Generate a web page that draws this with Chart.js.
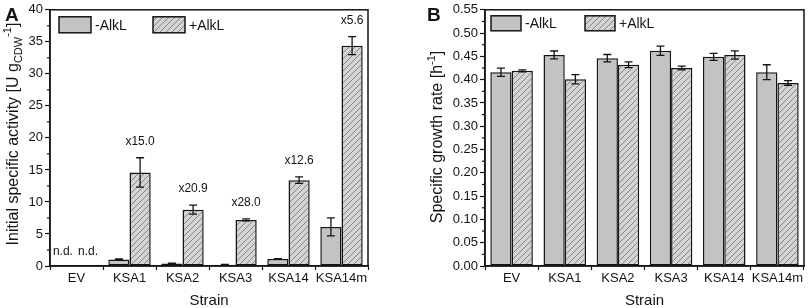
<!DOCTYPE html>
<html><head><meta charset="utf-8">
<script src="https://cdn.jsdelivr.net/npm/chart.js@4/dist/chart.umd.min.js"></script>
<style>
html,body{margin:0;padding:0;background:#fff;}
#wrap{position:relative;width:809px;height:308px;overflow:hidden;}
.pane{position:absolute;top:0;height:308px;}
</style></head><body>
<div id="wrap">
  <div class="pane" style="left:0;width:400px"><canvas id="ca" width="400" height="308"></canvas></div>
  <div class="pane" style="left:400px;width:409px"><canvas id="cb" width="409" height="308"></canvas></div>
</div>
<script>
// ---------- data ----------
const strains = ['EV', 'KSA1', 'KSA2', 'KSA3', 'KSA14', 'KSA14m'];
const seriesNames = ['-AlkL', '+AlkL'];

// Panel A: initial specific activity [U gCDW-1] (null = n.d.)
const activityMinus    = [null, 1.0, 0.4, 0.2, 1.1, 6.1];
const activityMinusErr = [0, 0.1, 0.05, 0.05, 0.05, 1.4];
const activityPlus     = [null, 14.6, 8.8, 7.2, 13.4, 34.4];
const activityPlusErr  = [0, 2.3, 0.7, 0.15, 0.5, 1.4];
const foldChange       = ['', 'x15.0', 'x20.9', 'x28.0', 'x12.6', 'x5.6'];
const ndLabel = 'n.d.';

// Panel B: specific growth rate [h-1]
const growthMinus    = [0.416, 0.453, 0.446, 0.462, 0.449, 0.416];
const growthMinusErr = [0.009, 0.0085, 0.008, 0.010, 0.0075, 0.016];
const growthPlus     = [0.419, 0.401, 0.432, 0.425, 0.453, 0.393];
const growthPlusErr  = [0.002, 0.010, 0.006, 0.004, 0.009, 0.005];

const yTicksA = {min: 0, max: 40, step: 5};
const yTicksB = {min: 0, max: 0.55, step: 0.05};

// ---------- styles ----------
const FONT = '"Liberation Sans", Arial, Helvetica, sans-serif';
const INK = '#141414';
const SOLID = '#c3c3c3';

function hatchPattern() {
  const c = document.createElement('canvas');
  c.width = 6; c.height = 6;
  const x = c.getContext('2d');
  x.fillStyle = '#d3d3d3';
  x.fillRect(0, 0, 6, 6);
  x.strokeStyle = '#868686';
  x.lineWidth = 1;
  x.beginPath();
  x.moveTo(0, 6); x.lineTo(6, 0);
  x.moveTo(-1, 1); x.lineTo(1, -1);
  x.moveTo(5, 7); x.lineTo(7, 5);
  x.stroke();
  return x.createPattern(c, 'repeat');
}
const HATCH = hatchPattern();

function drawRich(ctx, parts, cx, cy, rotate) {
  ctx.save();
  ctx.translate(cx, cy);
  if (rotate) ctx.rotate(-Math.PI / 2);
  ctx.textBaseline = 'alphabetic';
  ctx.textAlign = 'left';
  let total = 0;
  for (const p of parts) { ctx.font = p.size + 'px ' + FONT; p.w = ctx.measureText(p.t).width; total += p.w; }
  let x = -total / 2;
  for (const p of parts) {
    ctx.font = p.size + 'px ' + FONT;
    ctx.fillStyle = INK;
    ctx.fillText(p.t, x, p.dy || 0);
    x += p.w;
  }
  ctx.restore();
}

const errorBars = {
  id: 'errorBars',
  afterDatasetsDraw(chart, args, o) {
    const {ctx, scales: {y}} = chart;
    ctx.save();
    ctx.strokeStyle = INK;
    ctx.lineWidth = 1.3;
    chart.data.datasets.forEach((ds, i) => {
      const meta = chart.getDatasetMeta(i);
      const errs = o.errors[i];
      ds.data.forEach((v, j) => {
        if (v == null || !errs[j]) return;
        const el = meta.data[j];
        const px = el.x;
        const t = y.getPixelForValue(v + errs[j]);
        const b = y.getPixelForValue(v - errs[j]);
        ctx.beginPath();
        ctx.moveTo(px, t); ctx.lineTo(px, b);
        ctx.moveTo(px - 4, t); ctx.lineTo(px + 4, t);
        ctx.moveTo(px - 4, b); ctx.lineTo(px + 4, b);
        ctx.stroke();
      });
    });
    ctx.restore();
  }
};

const decor = {
  id: 'decor',
  afterDraw(chart, args, o) {
    const {ctx, chartArea: a, scales: {x, y}} = chart;
    ctx.save();
    // frame
    ctx.strokeStyle = INK;
    ctx.lineWidth = 1.5;
    ctx.strokeRect(a.left, a.top, a.right - a.left, a.bottom - a.top);
    // minor y ticks
    ctx.lineWidth = 1.2;
    const tk = y.ticks;
    for (let i = 0; i < tk.length - 1; i++) {
      const py = y.getPixelForValue((tk[i].value + tk[i + 1].value) / 2);
      ctx.beginPath(); ctx.moveTo(a.left - 3, py); ctx.lineTo(a.left, py); ctx.stroke();
    }
    // legend
    const L = o.legend;
    chart.data.datasets.forEach((ds, i) => {
      const bx = a.left + L.x[i], by = a.top + L.y;
      ctx.fillStyle = ds.backgroundColor;
      ctx.fillRect(bx, by, L.w, L.h);
      ctx.strokeStyle = INK; ctx.lineWidth = 1.5;
      ctx.strokeRect(bx, by, L.w, L.h);
      ctx.fillStyle = INK;
      ctx.font = '14px ' + FONT;
      ctx.textBaseline = 'middle';
      ctx.textAlign = 'left';
      ctx.fillText(ds.label, bx + L.w + 4, by + L.h / 2 + 1);
    });
    // annotations (fold change, n.d.)
    if (o.fold) {
      ctx.font = '12px ' + FONT;
      ctx.textAlign = 'center';
      ctx.textBaseline = 'middle';
      ctx.fillStyle = INK;
      const plusMeta = chart.getDatasetMeta(1);
      const plusData = chart.data.datasets[1].data;
      o.fold.forEach((t, j) => {
        if (!t) return;
        const top = y.getPixelForValue(plusData[j] + o.errors[1][j]);
        ctx.fillText(t, plusMeta.data[j].x, top - 16);
      });
      chart.data.datasets.forEach((ds, i) => {
        const meta = chart.getDatasetMeta(i);
        ds.data.forEach((v, j) => {
          if (v != null) return;
          ctx.fillText(o.nd, meta.data[j].x - 3 + i * 4, y.getPixelForValue(0) - 14);
        });
      });
    }
    // panel letter
    ctx.font = 'bold 19px ' + FONT;
    ctx.textAlign = 'left';
    ctx.textBaseline = 'alphabetic';
    ctx.fillStyle = INK;
    ctx.fillText(o.letter, o.letterX, 21);
    // axis titles
    drawRich(ctx, [{t: 'Strain', size: 15}], (a.left + a.right) / 2, 305, false);
    drawRich(ctx, o.yTitle, o.yTitleX, o.yTitleY, true);
    ctx.restore();
  }
};

function axisCfg(t, yWidth, fmt) {
  return {
    x: {
      grid: {offset: true, drawOnChartArea: false, tickLength: 4, tickColor: INK, tickWidth: 1.2},
      border: {color: INK, width: 1.5},
      ticks: {font: {size: 13, family: FONT}, color: INK, padding: 1, maxRotation: 0, autoSkip: false},
      afterFit(s) { s.height = 42; }
    },
    y: {
      min: t.min, max: t.max,
      grid: {drawOnChartArea: false, tickLength: 5, tickColor: INK, tickWidth: 1.2},
      border: {color: INK, width: 1.5},
      ticks: {stepSize: t.step, font: {size: 13, family: FONT}, color: INK, padding: 2, callback: fmt},
      afterFit(s) { s.width = yWidth; }
    }
  };
}

function makeChart(id, minus, plus, errs, t, yWidth, padRight, fmt, deco) {
  return new Chart(document.getElementById(id), {
    type: 'bar',
    data: {
      labels: strains,
      datasets: [
        {label: seriesNames[0], data: minus, backgroundColor: SOLID, borderColor: INK, borderWidth: 1.5, borderSkipped: false},
        {label: seriesNames[1], data: plus, backgroundColor: HATCH, borderColor: INK, borderWidth: 1.5, borderSkipped: false}
      ]
    },
    options: {
      responsive: false, animation: false, devicePixelRatio: 1,
      layout: {padding: {top: 8, right: padRight, left: 0, bottom: 0}},
      datasets: {bar: {categoryPercentage: 0.8, barPercentage: 1}},
      plugins: {
        legend: {display: false}, tooltip: {enabled: false},
        errorBars: {errors: errs},
        decor: Object.assign({errors: errs}, deco)
      },
      scales: axisCfg(t, yWidth, fmt)
    },
    plugins: [errorBars, decor]
  });
}

makeChart('ca', activityMinus, activityPlus, [activityMinusErr, activityPlusErr], yTicksA, 50, 32,
  v => String(v),
  {
    letter: 'A', letterX: 5,
    legend: {x: [9, 103], y: 7, w: 32, h: 16},
    fold: foldChange, nd: ndLabel,
    yTitleX: 18, yTitleY: 134,
    yTitle: [
      {t: 'Initial specific activity [U g', size: 16},
      {t: 'CDW', size: 11, dy: 4},
      {t: '-1', size: 11, dy: -7},
      {t: ']', size: 16}
    ]
  });

makeChart('cb', growthMinus, growthPlus, [growthMinusErr, growthPlusErr], yTicksB, 85, 5,
  v => Number(v).toFixed(2),
  {
    letter: 'B', letterX: 27,
    legend: {x: [6, 100], y: 6, w: 30, h: 15},
    yTitleX: 42, yTitleY: 137,
    yTitle: [
      {t: 'Specific growth rate [h', size: 16},
      {t: '-1', size: 11, dy: -7},
      {t: ']', size: 16}
    ]
  });
</script>
</body></html>
